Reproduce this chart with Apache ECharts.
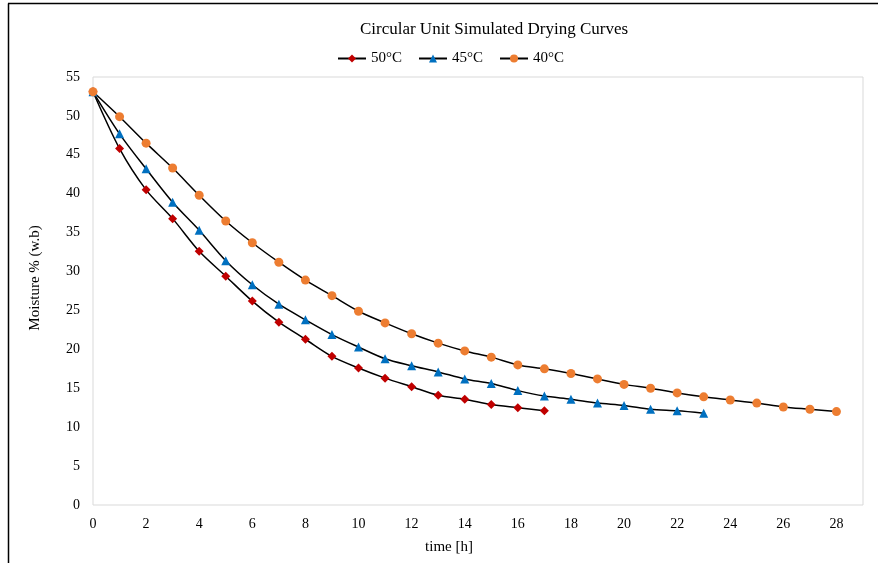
<!DOCTYPE html>
<html>
<head>
<meta charset="utf-8">
<script src="https://cdn.jsdelivr.net/npm/echarts@6/dist/echarts.min.js"></script>
<style>html,body{margin:0;padding:0;background:#fff;}#c{width:878px;height:563px;}</style>
</head>
<body>
<div id="c"></div>
<script>
const seriesNames = ['50°C', '45°C', '40°C'];
const hours50 = [0,1,2,3,4,5,6,7,8,9,10,11,12,13,14,15,16,17];
const moisture50 = [53.1,45.8,40.5,36.8,32.6,29.4,26.2,23.5,21.3,19.1,17.6,16.3,15.2,14.1,13.6,12.9,12.5,12.1];
const hours45 = [0,1,2,3,4,5,6,7,8,9,10,11,12,13,14,15,16,17,18,19,20,21,22,23];
const moisture45 = [53.1,47.7,43.2,38.9,35.3,31.4,28.3,25.8,23.8,21.9,20.3,18.8,17.9,17.1,16.2,15.6,14.7,14.0,13.6,13.1,12.8,12.3,12.1,11.8];
const hours40 = [0,1,2,3,4,5,6,7,8,9,10,11,12,13,14,15,16,17,18,19,20,21,22,23,24,25,26,27,28];
const moisture40 = [53.1,49.9,46.5,43.3,39.8,36.5,33.7,31.2,28.9,26.9,24.9,23.4,22.0,20.8,19.8,19.0,18.0,17.5,16.9,16.2,15.5,15.0,14.4,13.9,13.5,13.1,12.6,12.3,12.0];
const xTicks = [0,2,4,6,8,10,12,14,16,18,20,22,24,26,28];
const yTicks = [0,5,10,15,20,25,30,35,40,45,50,55];

const FONT = '"Liberation Serif", "Times New Roman", serif';
const pair = (xs, ys) => xs.map((x, i) => [x, ys[i]]);

const chart = echarts.init(document.getElementById('c'), null, {renderer: 'canvas'});
const mk = (name, xs, ys, symbol, size, color) => ({
  name, type: 'line', data: pair(xs, ys), smooth: 0.3,
  symbol, symbolSize: size,
  lineStyle: {color: '#000', width: 1.5},
  itemStyle: {color: color},
  emphasis: {disabled: true}
});
chart.setOption({
  animation: false,
  backgroundColor: '#fff',
  textStyle: {fontFamily: FONT},
  title: {
    text: 'Circular Unit Simulated Drying Curves',
    left: 489, textAlign: 'center', top: 16,
    textStyle: {fontFamily: FONT, fontSize: 17, fontWeight: 'normal', color: '#000'}
  },
  legend: {
    data: seriesNames, left: 332, top: 46, itemGap: 16, itemWidth: 28, itemHeight: 10,
    textStyle: {fontFamily: FONT, fontSize: 15, color: '#000'}
  },
  grid: {left: 93, top: 77, right: 15, bottom: 58, show: true, borderColor: '#d9d9d9', borderWidth: 1},
  xAxis: {
    type: 'value', min: 0, max: 29, interval: 2,
    name: 'time [h]', nameLocation: 'middle', nameGap: 35,
    nameTextStyle: {fontFamily: FONT, fontSize: 15, color: '#000', padding: [0, 58, 0, 0]},
    axisLine: {show: false}, axisTick: {show: false}, splitLine: {show: false},
    axisLabel: {fontFamily: FONT, fontSize: 14, color: '#000', margin: 12, showMaxLabel: false,
      formatter: v => xTicks.includes(v) ? String(v) : ''}
  },
  yAxis: {
    type: 'value', min: 0, max: 55, interval: 5,
    name: 'Moisture % (w.b)', nameLocation: 'middle', nameGap: 50, nameRotate: 90,
    nameTextStyle: {fontFamily: FONT, fontSize: 15, color: '#000', padding: [0, 0, 0, 26]},
    axisLine: {show: false}, axisTick: {show: false}, splitLine: {show: false},
    axisLabel: {fontFamily: FONT, fontSize: 14, color: '#000', margin: 13,
      formatter: v => yTicks.includes(v) ? String(v) : ''}
  },
  graphic: [
    {type: 'line', shape: {x1: 8.5, y1: 3.5, x2: 8.5, y2: 563}, style: {stroke: '#000', lineWidth: 1.5}, silent: true},
    {type: 'line', shape: {x1: 8, y1: 3.5, x2: 878, y2: 3.5}, style: {stroke: '#000', lineWidth: 1.5}, silent: true}
  ],
  series: [
    mk(seriesNames[0], hours50, moisture50, 'diamond', 9, '#C00000'),
    mk(seriesNames[1], hours45, moisture45, 'triangle', 9, '#0070C0'),
    mk(seriesNames[2], hours40, moisture40, 'circle', 9, '#ED7D31')
  ]
});
</script>
</body>
</html>
